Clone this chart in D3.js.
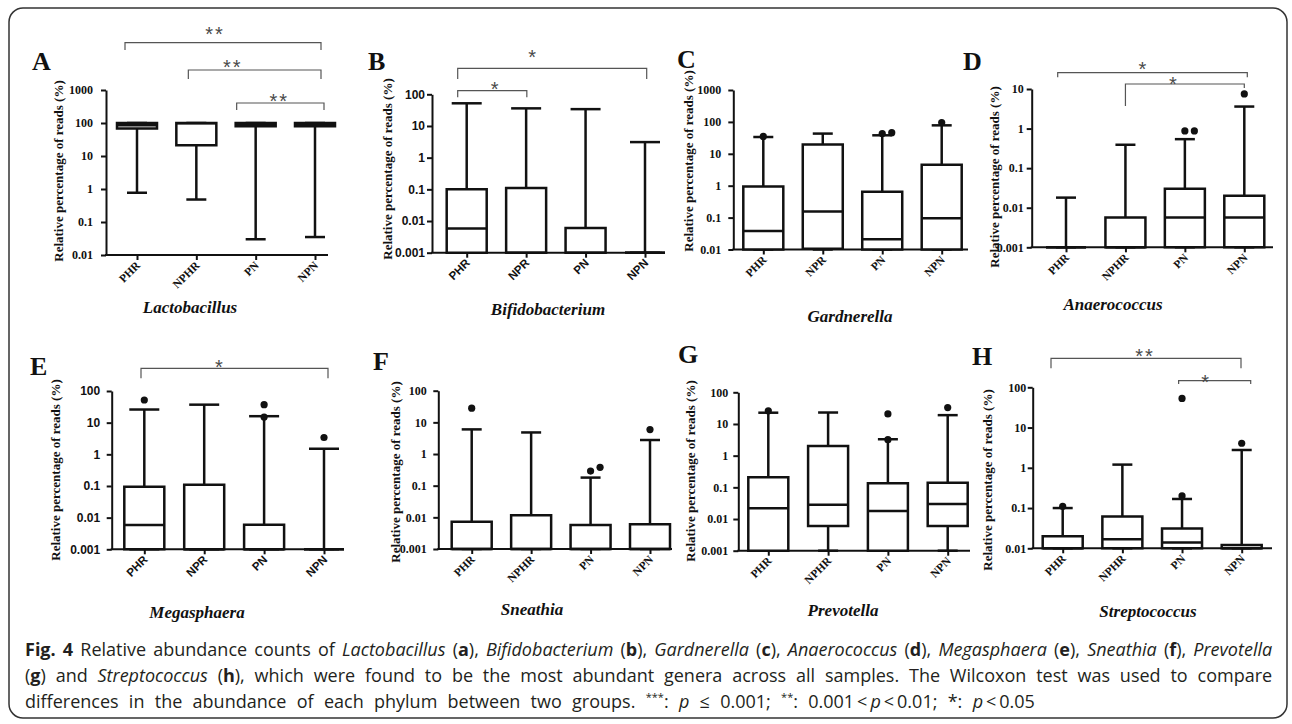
<!DOCTYPE html>
<html>
<head>
<meta charset="utf-8">
<script src="https://cdn.jsdelivr.net/npm/d3@7"></script>
<style>
  body { margin: 0; background: #fff; }
  #wrap { position: relative; width: 1292px; height: 724px; overflow: hidden; }
  #fig { position: absolute; left: 0; top: 0; }
  .cap-line {
    position: absolute; left: 25px; white-space: nowrap;
    font-family: "Open Sans", "Noto Sans", sans-serif; font-size: 18px;
    line-height: 26px; color: #231f20;
  }
  .cap-line sup { font-size: 11px; line-height: 0; }
</style>
</head>
<body>
<div id="wrap">
  <svg id="fig" width="1292" height="724"></svg>
  <div class="cap-line" data-w="1247" style="top:636px"><b>Fig. 4</b> Relative abundance counts of <i>Lactobacillus</i> (<b>a</b>), <i>Bifidobacterium</i> (<b>b</b>), <i>Gardnerella</i> (<b>c</b>), <i>Anaerococcus</i> (<b>d</b>), <i>Megasphaera</i> (<b>e</b>), <i>Sneathia</i> (<b>f</b>), <i>Prevotella</i></div>
  <div class="cap-line" data-w="1247" style="top:662px">(<b>g</b>) and <i>Streptococcus</i> (<b>h</b>), which were found to be the most abundant genera across all samples. The Wilcoxon test was used to compare</div>
  <div class="cap-line" data-w="1010" style="top:688px">differences in the abundance of each phylum between two groups. <sup>***</sup>: <i>p</i> ≤ 0.001; <sup>**</sup>: 0.001&thinsp;&lt;&thinsp;<i>p</i>&thinsp;&lt;&thinsp;0.01; *: <i>p</i>&thinsp;&lt;&thinsp;0.05</div>
</div>
<script>
// groups on the x axis
const groupsHR = ["PHR", "NPHR", "PN", "NPN"];
const groupsR = ["PHR", "NPR", "PN", "NPN"];

// y tick labels (log scales)
const ticks2to3 = ["0.01", "0.1", "1", "10", "100", "1000"];
const ticks3to2 = ["0.001", "0.01", "0.1", "1", "10", "100"];
const ticks3to1 = ["0.001", "0.01", "0.1", "1", "10"];
const ticks2to2 = ["0.01", "0.1", "1", "10", "100"];

// box stats per group: [whisker low, q1, median, q3, whisker high]
const lactobacillus = [[0.77, 68, 85, 100, 100], [0.48, 21, 98, 100, 100], [0.03, 80, 95, 100, 100], [0.035, 80, 95, 100, 100]];
const bifidobacterium = [[0.001, 0.001, 0.0058, 0.1, 52], [0.001, 0.001, 0.001, 0.11, 36], [0.001, 0.001, 0.001, 0.006, 34], [0.001, 0.001, 0.001, 0.001, 3.1]];
const gardnerella = [[0.01, 0.01, 0.038, 0.95, 33.6], [0.01, 0.0105, 0.155, 19.6, 43], [0.01, 0.01, 0.021, 0.65, 38], [0.01, 0.01, 0.096, 4.5, 78]];
const anaerococcus = [[0.001, 0.001, 0.001, 0.001, 0.018], [0.001, 0.001, 0.001, 0.0057, 0.39], [0.001, 0.001, 0.0057, 0.03, 0.54], [0.001, 0.001, 0.0057, 0.02, 3.6]];
const megasphaera = [[0.001, 0.001, 0.0059, 0.095, 26], [0.001, 0.001, 0.001, 0.11, 37], [0.001, 0.001, 0.001, 0.006, 16], [0.001, 0.001, 0.001, 0.001, 1.5]];
const sneathia = [[0.001, 0.001, 0.001, 0.0073, 6.0], [0.001, 0.001, 0.001, 0.0116, 4.8], [0.001, 0.001, 0.001, 0.0057, 0.18], [0.001, 0.001, 0.001, 0.006, 2.77]];
const prevotella = [[0.001, 0.001, 0.022, 0.21, 22.7], [0.001, 0.006, 0.028, 2.0, 23], [0.001, 0.001, 0.018, 0.134, 3.3], [0.001, 0.006, 0.03, 0.14, 19]];
const streptococcus = [[0.01, 0.01, 0.01, 0.02, 0.1], [0.01, 0.01, 0.0168, 0.062, 1.2], [0.01, 0.01, 0.014, 0.031, 0.168], [0.01, 0.01, 0.01, 0.0121, 2.77]];

// outliers per group
const lactobacillusOut = [[], [], [], []];
const bifidobacteriumOut = [[], [], [], []];
const gardnerellaOut = [[35], [], [43, 46], [95]];
const anaerococcusOut = [[], [], [0.87, 0.87], [7.5]];
const megasphaeraOut = [[52], [], [37, 15], [3.4]];
const sneathiaOut = [[28], [], [0.29, 0.38], [5.9]];
const prevotellaOut = [[26], [], [20.7, 3.2], [33]];
const streptococcusOut = [[0.11], [], [53, 0.2], [4.07]];

// significant pairs [from, to, label]
const sigA = [["PHR", "NPN", "**"], ["NPHR", "NPN", "**"], ["PN", "NPN", "**"]];
const sigB = [["PHR", "NPN", "*"], ["PHR", "NPR", "*"]];
const sigD = [["PHR", "NPN", "*"], ["NPHR", "NPN", "*"]];
const sigE = [["PHR", "NPN", "*"]];
const sigH = [["PHR", "NPN", "**"], ["PN", "NPN", "*"]];

const panels = [
  { letter: "A", genus: "Lactobacillus", groups: groupsHR, ticks: ticks2to3, stats: lactobacillus, out: lactobacillusOut, sig: sigA },
  { letter: "B", genus: "Bifidobacterium", groups: groupsR, ticks: ticks3to2, stats: bifidobacterium, out: bifidobacteriumOut, sig: sigB },
  { letter: "C", genus: "Gardnerella", groups: groupsR, ticks: ticks2to3, stats: gardnerella, out: gardnerellaOut, sig: [] },
  { letter: "D", genus: "Anaerococcus", groups: groupsHR, ticks: ticks3to1, stats: anaerococcus, out: anaerococcusOut, sig: sigD },
  { letter: "E", genus: "Megasphaera", groups: groupsR, ticks: ticks3to2, stats: megasphaera, out: megasphaeraOut, sig: sigE },
  { letter: "F", genus: "Sneathia", groups: groupsHR, ticks: ticks3to2, stats: sneathia, out: sneathiaOut, sig: [] },
  { letter: "G", genus: "Prevotella", groups: groupsHR, ticks: ticks3to2, stats: prevotella, out: prevotellaOut, sig: [] },
  { letter: "H", genus: "Streptococcus", groups: groupsHR, ticks: ticks2to2, stats: streptococcus, out: streptococcusOut, sig: sigH }
];

// placement of each panel on the page (pixels)
// brackets: [bar y, drop left, drop right, nudge left, nudge right, star dx, star dy]
const layout = [
  { axisX: 106, x0: 137, x1: 315, axisEnd: 328, yTop: 90, yBot: 255, pad: 8, cap: 10, sans: false,
    letterAt: [32, 70], titleAt: [190, 313], ylabAt: [63, 171],
    brackets: [[42.7, 7.3, 7.3, -12, 6, -8, -12.7], [70, 9, 9, -8, 6, -22, -7], [103, 7, 7, -19, 9, -1, -6]] },
  { axisX: 432, x0: 466.7, x1: 645, axisEnd: 662, yTop: 94.3, yBot: 252.7, pad: 2, cap: 15, sans: true,
    letterAt: [368, 70], titleAt: [548, 315], ylabAt: [392, 169],
    brackets: [[68.3, 10.7, 10.7, -9, 1.7, -19, -15], [90.7, 6.6, 6.6, -9, 0.7, 3.5, -5.7]] },
  { axisX: 733.3, x0: 763.3, x1: 941.7, axisEnd: 968, yTop: 90, yBot: 249.5, pad: 7, cap: 10, sans: false,
    letterAt: [677, 68], titleAt: [850, 322], ylabAt: [693, 161], brackets: [] },
  { axisX: 1031.7, x0: 1066, x1: 1244.3, axisEnd: 1273, yTop: 89, yBot: 247.3, pad: 3, cap: 10, sans: false,
    letterAt: [963, 70], titleAt: [1113, 310], ylabAt: [999, 177],
    brackets: [[72.7, 4.6, 4.6, -8.3, 3, -9, -7.7], [84, 22, 4, 0, 0, -11, -4]] },
  { axisX: 111.7, x0: 144.3, x1: 324, axisEnd: 334, yTop: 391, yBot: 549.3, pad: 6.5, cap: 15, sans: true,
    letterAt: [30, 375], titleAt: [197, 618], ylabAt: [60, 470],
    brackets: [[368.3, 10, 10, -3.3, 4, -14.5, -5]] },
  { axisX: 438.3, x0: 471.7, x1: 650, axisEnd: 672, yTop: 390.7, yBot: 549, pad: 6.5, cap: 10, sans: false,
    letterAt: [373, 370], titleAt: [532, 615], ylabAt: [400, 472], brackets: [] },
  { axisX: 738.3, x0: 768.3, x1: 947.7, axisEnd: 970, yTop: 392.3, yBot: 550.7, pad: 5, cap: 10, sans: false,
    letterAt: [678, 363], titleAt: [843, 616], ylabAt: [695, 471], brackets: [] },
  { axisX: 1032.7, x0: 1062.7, x1: 1241.7, axisEnd: 1272, yTop: 387.3, yBot: 548.3, pad: 1.5, cap: 10, sans: false,
    letterAt: [972, 365], titleAt: [1148, 617], ylabAt: [992, 480],
    brackets: [[358.3, 10, 10, -11.7, -0.7, -1, -6.6], [380.7, 3.3, 3.3, -3.4, 9, -8.5, -2.7]] }
];

const SERIF = "'Liberation Serif', 'Times New Roman', serif";
const SANS = "'Liberation Sans', Arial, sans-serif";
const INK = "#111";
const BOX_W = 40;

const svg = d3.select("#fig");

svg.append("rect")
  .attr("x", 9).attr("y", 8)
  .attr("width", 1278).attr("height", 710)
  .attr("rx", 14)
  .attr("fill", "none")
  .attr("stroke", "#333")
  .attr("stroke-width", 1.5);

const drawPanel = (p, L) => {
  const g = svg.append("g").attr("class", "panel-" + p.letter);
  const tickFont = L.sans ? SANS : SERIF;

  const y = d3
    .scaleLog()
    .domain([+p.ticks[0], +p.ticks[p.ticks.length - 1]])
    .range([L.yBot, L.yTop]);
  const x = d3.scalePoint().domain(p.groups).range([L.x0, L.x1]);

  // y axis
  const yAxis = d3
    .axisLeft(y)
    .tickValues(p.ticks.map(Number))
    .tickFormat((d, i) => p.ticks[i])
    .tickSize(5)
    .tickSizeOuter(0)
    .tickPadding(L.pad);
  const yg = g.append("g").attr("transform", `translate(${L.axisX},0)`).call(yAxis);
  yg.select(".domain").attr("stroke", INK).attr("stroke-width", 2);
  yg.selectAll(".tick line").attr("stroke", INK).attr("stroke-width", 2);
  yg.selectAll(".tick text")
    .attr("fill", INK)
    .style("font-family", tickFont)
    .style("font-weight", "bold")
    .style("font-size", "12px");

  // x axis
  const xAxis = d3.axisBottom(x).tickSize(5).tickSizeOuter(0).tickFormat("");
  const xg = g.append("g").attr("transform", `translate(0,${L.yBot})`).call(xAxis);
  xg.select(".domain").remove();
  xg.selectAll(".tick line").attr("stroke", INK).attr("stroke-width", 2);
  g.append("line")
    .attr("x1", L.axisX - 1).attr("x2", L.axisEnd)
    .attr("y1", L.yBot).attr("y2", L.yBot)
    .attr("stroke", INK).attr("stroke-width", 2);

  g.selectAll(".xlab")
    .data(p.groups)
    .join("text")
    .attr("class", "xlab")
    .attr("transform", (d) => `translate(${x(d) + 4},${L.yBot + 11}) rotate(-45)`)
    .attr("text-anchor", "end")
    .attr("fill", INK)
    .style("font-family", tickFont)
    .style("font-weight", "bold")
    .style("font-size", "11.5px")
    .text((d) => d);

  // boxes
  const boxes = g.selectAll(".box")
    .data(p.stats.map((s, i) => ({ group: p.groups[i], s, out: p.out[i] })))
    .join("g")
    .attr("class", "box");

  const seg = (sel, fx1, fy1, fx2, fy2) =>
    sel.append("line")
      .attr("x1", fx1).attr("y1", fy1).attr("x2", fx2).attr("y2", fy2)
      .attr("stroke", INK).attr("stroke-width", 2.5);

  seg(boxes, (d) => x(d.group), (d) => y(d.s[3]), (d) => x(d.group), (d) => y(d.s[4]));
  seg(boxes, (d) => x(d.group), (d) => y(d.s[1]), (d) => x(d.group), (d) => y(d.s[0]));
  seg(boxes, (d) => x(d.group) - L.cap, (d) => y(d.s[4]), (d) => x(d.group) + L.cap, (d) => y(d.s[4]));
  seg(boxes, (d) => x(d.group) - L.cap, (d) => y(d.s[0]), (d) => x(d.group) + L.cap, (d) => y(d.s[0]));

  boxes.append("path")
    .attr("d", (d) => {
      const l = x(d.group) - BOX_W / 2, r = x(d.group) + BOX_W / 2;
      return `M${l},${y(d.s[3])}H${r}V${y(d.s[1])}H${l}Z`;
    })
    .attr("fill", "#fff")
    .attr("stroke", INK)
    .attr("stroke-width", 2.5);

  seg(boxes, (d) => x(d.group) - BOX_W / 2, (d) => y(d.s[2]), (d) => x(d.group) + BOX_W / 2, (d) => y(d.s[2]));

  // outliers, nudged sideways when they would overlap
  boxes.each(function (d) {
    const placed = [];
    d.out.forEach((v) => {
      let cx = x(d.group);
      const cy = y(v);
      if (placed.some((q) => Math.abs(q[1] - cy) < 7 && q[0] === cx)) cx += 9.5;
      placed.push([cx, cy]);
      d3.select(this).append("circle")
        .attr("cx", cx).attr("cy", cy).attr("r", 3.6)
        .attr("fill", INK);
    });
  });

  // significance brackets
  p.sig.forEach((s, i) => {
    const [by, dl, dr, nl, nr, sdx, sdy] = L.brackets[i];
    const xl = x(s[0]) + nl, xr = x(s[1]) + nr;
    g.append("path")
      .attr("d", `M${xl},${by + dl}V${by}H${xr}V${by + dr}`)
      .attr("fill", "none")
      .attr("stroke", "#555")
      .attr("stroke-width", 1.2);
    g.append("text")
      .attr("x", (xl + xr) / 2 + sdx)
      .attr("y", by + sdy + 11)
      .attr("text-anchor", "middle")
      .attr("fill", "#4a4a4a")
      .style("font-family", SANS)
      .style("font-size", "20px")
      .style("letter-spacing", "2px")
      .text(s[2]);
  });

  // labels
  g.append("text")
    .attr("x", L.letterAt[0]).attr("y", L.letterAt[1])
    .attr("fill", INK)
    .style("font-family", SERIF).style("font-weight", "bold").style("font-size", "26px")
    .text(p.letter);

  g.append("text")
    .attr("x", L.titleAt[0]).attr("y", L.titleAt[1])
    .attr("text-anchor", "middle")
    .attr("fill", INK)
    .style("font-family", SERIF).style("font-weight", "bold").style("font-style", "italic")
    .style("font-size", "17px")
    .text(p.genus);

  g.append("text")
    .attr("transform", `translate(${L.ylabAt[0]},${L.ylabAt[1]}) rotate(-90)`)
    .attr("text-anchor", "middle")
    .attr("fill", INK)
    .style("font-family", SERIF).style("font-weight", "bold").style("font-size", "13px")
    .text("Relative percentage of reads (%)");
};

panels.forEach((p, i) => drawPanel(p, layout[i]));

// spread words so each caption line reaches its measured width
d3.selectAll(".cap-line").each(function () {
  const el = this;
  const target = +el.dataset.w;
  const natural = el.getBoundingClientRect().width;
  const spaces = (el.textContent.match(/ /g) || []).length;
  if (spaces) el.style.wordSpacing = ((target - natural) / spaces).toFixed(2) + "px";
});
</script>
</body>
</html>
